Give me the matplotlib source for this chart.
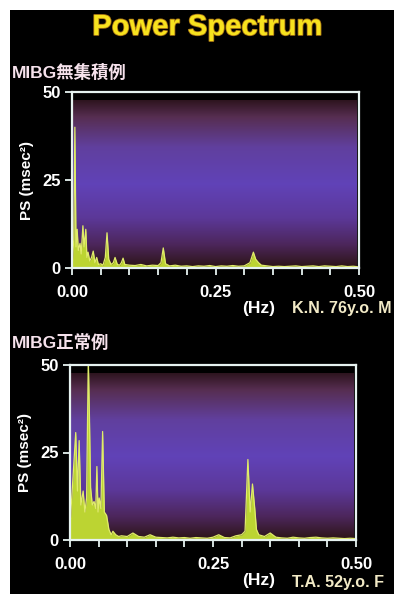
import numpy as np
import matplotlib
matplotlib.use("Agg")
import matplotlib.pyplot as plt
import matplotlib.patheffects as pe
from matplotlib.patches import Rectangle
from matplotlib.colors import LinearSegmentedColormap

# ---------------- data ----------------
title = "Power Spectrum"
panel_titles = ["MIBG無集積例", "MIBG正常例"]
case_labels = ["K.N. 76y.o. M", "T.A. 52y.o. F"]
ylabel = "PS (msec²)"
xlabel = "(Hz)"
x_ticks = [0.00, 0.25, 0.50]
x_ticklabels = ["0.00", "0.25", "0.50"]
y_ticks = [0, 25, 50]

freq_top = [0.000, 0.003, 0.005, 0.007, 0.009, 0.011, 0.014, 0.016, 0.019, 0.021,
            0.024, 0.026, 0.028, 0.031, 0.034, 0.037, 0.040, 0.043, 0.046, 0.050,
            0.054, 0.058, 0.061, 0.064, 0.068, 0.072, 0.075, 0.079, 0.083, 0.086,
            0.089, 0.092, 0.100, 0.110, 0.120, 0.130, 0.140, 0.150, 0.155, 0.159,
            0.163, 0.170, 0.180, 0.190, 0.200, 0.210, 0.220, 0.230, 0.240, 0.250,
            0.260, 0.270, 0.280, 0.290, 0.300, 0.310, 0.316, 0.320, 0.325, 0.330,
            0.340, 0.350, 0.360, 0.370, 0.380, 0.390, 0.400, 0.410, 0.420, 0.430,
            0.440, 0.450, 0.460, 0.470, 0.480, 0.490, 0.500]
ps_top = [0.0, 8.0, 40.0, 6.0, 11.0, 5.0, 7.0, 4.0, 12.0, 6.0,
          11.0, 3.0, 4.5, 2.0, 3.0, 4.8, 1.5, 3.0, 1.0, 1.2,
          0.8, 3.0, 10.0, 2.5, 1.0, 1.5, 3.0, 1.0, 0.8, 1.5,
          2.8, 1.0, 0.8, 0.7, 1.0, 0.6, 0.8, 0.7, 1.5, 5.7,
          1.2, 0.6, 0.8, 0.5, 0.6, 0.4, 0.6, 0.5, 0.7, 0.4,
          0.6, 0.5, 0.7, 0.5, 0.6, 1.5, 4.5, 2.5, 1.5, 0.8,
          0.6, 0.4, 0.5, 0.4, 0.5, 0.6, 0.4, 0.5, 0.6, 0.4,
          0.6, 0.5, 0.4, 0.6, 0.4, 0.5, 0.3]

freq_bot = [0.000, 0.003, 0.006, 0.010, 0.013, 0.016, 0.019, 0.021, 0.023, 0.026,
            0.029, 0.032, 0.034, 0.036, 0.039, 0.042, 0.045, 0.047, 0.049, 0.051,
            0.054, 0.057, 0.060, 0.064, 0.068, 0.072, 0.075, 0.080, 0.085, 0.090,
            0.100, 0.110, 0.120, 0.130, 0.140, 0.150, 0.160, 0.170, 0.180, 0.190,
            0.200, 0.210, 0.220, 0.230, 0.240, 0.250, 0.260, 0.270, 0.280, 0.290,
            0.300, 0.306, 0.311, 0.315, 0.319, 0.323, 0.326, 0.330, 0.340, 0.350,
            0.360, 0.370, 0.380, 0.390, 0.400, 0.410, 0.420, 0.430, 0.440, 0.450,
            0.460, 0.470, 0.480, 0.490, 0.500]
ps_bot = [4.0, 12.0, 20.0, 30.7, 14.0, 28.4, 10.0, 12.0, 14.0, 8.0,
          12.0, 52.0, 35.0, 15.0, 10.0, 11.0, 9.0, 21.0, 8.0, 12.0,
          9.0, 31.0, 8.0, 7.0, 3.0, 1.5, 2.5, 1.5, 1.0, 1.2,
          1.0, 2.0, 1.0, 0.8, 1.5, 0.8, 0.7, 0.6, 0.8, 0.6,
          0.7, 0.5, 0.7, 0.6, 0.5, 0.8, 1.5, 0.7, 0.6, 1.2,
          1.5, 2.5, 23.0, 8.0, 16.0, 9.0, 3.0, 1.5, 1.0, 2.0,
          0.8, 0.6, 0.5, 0.8, 0.6, 0.5, 0.7, 0.8, 0.6, 0.5,
          0.6, 0.5, 0.4, 0.5, 0.4]

# ---------------- styling ----------------
W, H = 397, 598
fig = plt.figure(figsize=(W / 100, H / 100), dpi=100)
fig.patch.set_facecolor("white")

def fx(px):
    return px / W

def fy(py):
    return 1 - py / H

fig.add_artist(Rectangle((fx(10), fy(594)), fx(394) - fx(10), fy(10) - fy(594),
                         transform=fig.transFigure, facecolor="black",
                         edgecolor="none", zorder=-10))

FONT = ["Liberation Sans", "Noto Sans CJK JP", "DejaVu Sans"]
plt.rcParams["font.family"] = FONT

GREEN = "#bcd432"
GREEN_LINE = "#e0ec6a"
FRAME = "#e6f2f0"

grad_cmap = LinearSegmentedColormap.from_list("bg", [
    (0.00, (0.18, 0.08, 0.12)),
    (0.10, (0.34, 0.18, 0.32)),
    (0.28, (0.38, 0.25, 0.62)),
    (0.50, (0.38, 0.26, 0.72)),
    (0.70, (0.36, 0.22, 0.60)),
    (0.86, (0.30, 0.15, 0.36)),
    (1.00, (0.17, 0.08, 0.08)),
])

panels = [
    dict(freq=freq_top, ps=ps_top, box=(72, 92, 359, 268), sub_y=72,
         grad_top=47.7, hz_y=308, case_y=308),
    dict(freq=freq_bot, ps=ps_bot, box=(70, 365, 356, 540), sub_y=342,
         grad_top=47.5, hz_y=580, case_y=583),
]

for i, p in enumerate(panels):
    l, t, r, b = p["box"]
    ax = fig.add_axes([fx(l), fy(b), fx(r) - fx(l), fy(t) - fy(b)])
    ax.set_facecolor("black")
    ax.set_xlim(0, 0.5)
    ax.set_ylim(0, 50)

    grad = np.linspace(0, 1, 256).reshape(-1, 1)
    ax.imshow(grad, cmap=grad_cmap, aspect="auto",
              extent=[0, 0.4965, 0, p["grad_top"]], origin="upper",
              interpolation="bilinear", zorder=0)

    f = np.array(p["freq"])
    v = np.array(p["ps"])
    ax.fill_between(f, 0, v, color=GREEN, alpha=1.0, lw=0, zorder=2)
    ax.plot(f, v, color=GREEN_LINE, lw=0.9, zorder=3)

    for s in ax.spines.values():
        s.set_color(FRAME)
        s.set_linewidth(1.6)
        s.set_zorder(5)

    ax.set_xticks(x_ticks)
    ax.set_xticklabels(x_ticklabels)
    ax.set_xticks(np.arange(0.05, 0.5, 0.05), minor=True)
    ax.set_yticks(y_ticks)
    ax.set_yticklabels([str(y) for y in y_ticks])
    ax.tick_params(axis="x", which="both", direction="out", length=5, width=1.3,
                   color=FRAME, labelcolor="white", labelsize=12, pad=7)
    ax.tick_params(axis="y", which="both", direction="out", length=5, width=1.3,
                   color=FRAME, labelcolor="white", labelsize=12, pad=3)
    for lab in ax.get_xticklabels() + ax.get_yticklabels():
        lab.set_fontweight("bold")

    ax.set_ylabel(ylabel, color="white", fontsize=11, fontweight="bold",
                  labelpad=6)

    fig.text(fx(12), fy(p["sub_y"]), panel_titles[i], color="#f6e2ec",
             fontsize=12.5, fontweight="bold", ha="left", va="center")
    fig.text(fx(259), fy(p["hz_y"]), xlabel, color="white", fontsize=12.5,
             fontweight="bold", ha="center", va="center")
    fig.text(fx(292), fy(p["case_y"]), case_labels[i], color="#f2eac6",
             fontsize=11.6, fontweight="bold", ha="left", va="center")

fig.text(fx(207), fy(27), title, color="#f7e21e", fontsize=21,
         fontweight="bold", ha="center", va="center",
         path_effects=[pe.withStroke(linewidth=1.2, foreground="#a87414")])

fig.savefig("out.png", dpi=100, facecolor=fig.get_facecolor())
